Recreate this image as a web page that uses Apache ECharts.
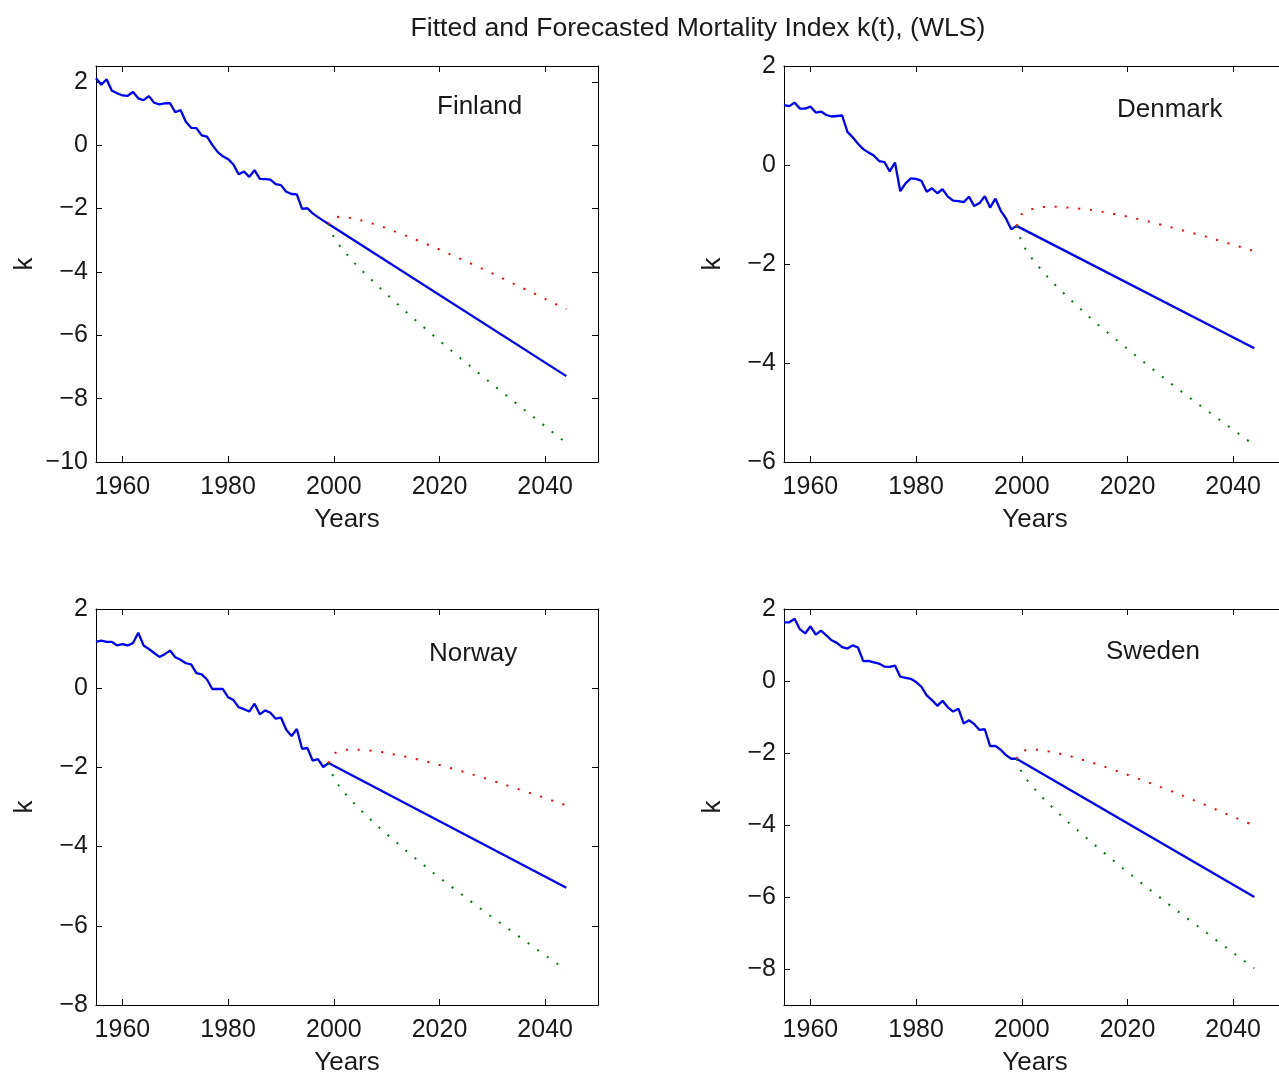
<!DOCTYPE html>
<html>
<head>
<meta charset="utf-8">
<script src="https://cdn.jsdelivr.net/npm/echarts@6/dist/echarts.min.js"></script>
<style>
  html, body { margin: 0; padding: 0; background: #ffffff; }
  #chart { width: 1279px; height: 1072px; }
</style>
</head>
<body>
<div id="chart"></div>
<script>
// Observed years of the fitted index
const histYears = [1955, 1956, 1957, 1958, 1959, 1960, 1961, 1962, 1963, 1964,
                   1965, 1966, 1967, 1968, 1969, 1970, 1971, 1972, 1973, 1974,
                   1975, 1976, 1977, 1978, 1979, 1980, 1981, 1982, 1983, 1984,
                   1985, 1986, 1987, 1988, 1989, 1990, 1991, 1992, 1993, 1994,
                   1995, 1996, 1997, 1998, 1999];

// Fitted k(t), 1955-1999
const finlandHist = [2.11, 1.91, 2.08, 1.72, 1.64, 1.57, 1.56, 1.68, 1.48, 1.42,
                     1.55, 1.34, 1.29, 1.32, 1.33, 1.04, 1.11, 0.74, 0.55, 0.54,
                     0.31, 0.27, 0.01, -0.21, -0.35, -0.44, -0.61, -0.92, -0.83, -1.00,
                     -0.79, -1.06, -1.07, -1.09, -1.23, -1.26, -1.47, -1.54, -1.55, -2.01,
                     -1.99, -2.15, -2.27, -2.38, -2.49];
const denmarkHist = [1.21, 1.19, 1.26, 1.14, 1.14, 1.18, 1.06, 1.08, 1.01, 0.98,
                     0.99, 1.00, 0.67, 0.56, 0.43, 0.32, 0.25, 0.19, 0.08, 0.06,
                     -0.13, 0.05, -0.53, -0.37, -0.27, -0.28, -0.32, -0.54, -0.47, -0.57,
                     -0.49, -0.64, -0.72, -0.73, -0.75, -0.64, -0.83, -0.77, -0.63, -0.86,
                     -0.68, -0.92, -1.08, -1.30, -1.23];
const norwayHist = [1.17, 1.20, 1.17, 1.17, 1.08, 1.11, 1.08, 1.14, 1.40, 1.08,
                    0.99, 0.89, 0.79, 0.86, 0.95, 0.78, 0.72, 0.63, 0.60, 0.38,
                    0.35, 0.22, -0.02, -0.02, -0.02, -0.23, -0.30, -0.48, -0.53, -0.59,
                    -0.39, -0.66, -0.56, -0.62, -0.77, -0.74, -1.05, -1.21, -1.03, -1.53,
                    -1.51, -1.83, -1.79, -1.99, -1.89];
const swedenHist = [1.63, 1.63, 1.73, 1.44, 1.32, 1.52, 1.29, 1.40, 1.27, 1.13,
                    1.06, 0.94, 0.90, 0.99, 0.93, 0.55, 0.56, 0.52, 0.48, 0.40,
                    0.39, 0.43, 0.12, 0.09, 0.06, -0.03, -0.16, -0.40, -0.53, -0.69,
                    -0.55, -0.73, -0.85, -0.77, -1.18, -1.09, -1.20, -1.36, -1.34, -1.81,
                    -1.80, -1.91, -2.06, -2.16, -2.16];

// Central forecast: straight line from the last fitted year to the horizon
const meanYears = [1999, 2044];
const finlandMean = [-2.49, -7.29];
const denmarkMean = [-1.23, -3.70];
const norwayMean = [-1.89, -5.04];
const swedenMean = [-2.16, -6.00];

// Upper and lower forecast bounds
const boundYears = [1999, 2000, 2001, 2002, 2003, 2004, 2006, 2009, 2014, 2019, 2024, 2029, 2034, 2039, 2044];
const finlandUpper = [-2.49, -2.28, -2.26, -2.27, -2.29, -2.32, -2.41, -2.56, -2.88, -3.22, -3.59, -3.97, -4.37, -4.77, -5.18];
const finlandLower = [-2.49, -2.91, -3.15, -3.35, -3.55, -3.73, -4.07, -4.55, -5.31, -6.03, -6.73, -7.41, -8.08, -8.74, -9.40];
const denmarkUpper = [-1.23, -0.99, -0.93, -0.89, -0.87, -0.85, -0.84, -0.86, -0.92, -1.02, -1.14, -1.28, -1.42, -1.58, -1.74];
const denmarkLower = [-1.23, -1.58, -1.75, -1.90, -2.03, -2.16, -2.39, -2.70, -3.19, -3.63, -4.06, -4.48, -4.88, -5.27, -5.66];
const norwayUpper = [-1.89, -1.65, -1.59, -1.56, -1.55, -1.55, -1.56, -1.61, -1.74, -1.90, -2.09, -2.29, -2.51, -2.73, -2.96];
const norwayLower = [-1.89, -2.27, -2.47, -2.64, -2.79, -2.93, -3.20, -3.57, -4.14, -4.68, -5.19, -5.69, -6.17, -6.65, -7.12];
const swedenUpper = [-2.16, -1.95, -1.91, -1.91, -1.91, -1.93, -1.98, -2.08, -2.30, -2.55, -2.82, -3.10, -3.40, -3.71, -4.02];
const swedenLower = [-2.16, -2.54, -2.75, -2.93, -3.09, -3.25, -3.54, -3.95, -4.58, -5.19, -5.77, -6.34, -6.89, -7.44, -7.98];

// Tick labels
const xTicks = [1960, 1980, 2000, 2020, 2040];
const finlandYTicks = [-10, -8, -6, -4, -2, 0, 2];
const denmarkYTicks = [-6, -4, -2, 0, 2];
const norwayYTicks = [-8, -6, -4, -2, 0, 2];
const swedenYTicks = [-8, -6, -4, -2, 0, 2];

const titleText = 'Fitted and Forecasted Mortality Index k(t), (WLS)';
const xName = 'Years';
const yName = 'k';

const FONT = "'Liberation Sans', Arial, Helvetica, sans-serif";
const TEXT = '#1a1a1a';

const panels = [
  { name: 'Finland', hist: finlandHist, mean: finlandMean, upper: finlandUpper, lower: finlandLower,
    yMin: -10, yMax: 2.5, yTicks: finlandYTicks,
    box: { left: 96, top: 66, width: 502, height: 396 }, label: [437, 107] },
  { name: 'Denmark', hist: denmarkHist, mean: denmarkMean, upper: denmarkUpper, lower: denmarkLower,
    yMin: -6, yMax: 2, yTicks: denmarkYTicks,
    box: { left: 784, top: 66, width: 502, height: 396 }, label: [1117, 110] },
  { name: 'Norway', hist: norwayHist, mean: norwayMean, upper: norwayUpper, lower: norwayLower,
    yMin: -8, yMax: 2, yTicks: norwayYTicks,
    box: { left: 96, top: 609, width: 502, height: 396 }, label: [429, 654] },
  { name: 'Sweden', hist: swedenHist, mean: swedenMean, upper: swedenUpper, lower: swedenLower,
    yMin: -9, yMax: 2, yTicks: swedenYTicks,
    box: { left: 784, top: 609, width: 502, height: 396 }, label: [1106, 652] }
];

const plain = v => String(v);
const minus = v => String(v).replace('-', '\u2212');
const pairs = (xs, ys) => xs.map((x, i) => [x, ys[i]]);

const grid = [], xAxis = [], yAxis = [], series = [], graphic = [];

panels.forEach((p, i) => {
  grid.push(Object.assign({ outerBoundsMode: 'none', containLabel: false }, p.box));

  const line = { show: true, onZero: false, lineStyle: { color: '#000', width: 1 } };
  const tickIn = (vals) => ({ show: true, inside: true, length: 6, customValues: vals,
                              lineStyle: { color: '#000', width: 1 } });

  // bottom + mirrored top x axis
  xAxis.push({
    type: 'value', gridIndex: i, position: 'bottom', min: 1955, max: 2050,
    axisLine: line, axisTick: tickIn(xTicks), splitLine: { show: false },
    axisLabel: { show: true, customValues: xTicks, margin: 13, color: TEXT,
                 fontFamily: FONT, fontSize: 25, formatter: plain },
    name: xName, nameLocation: 'middle', nameGap: 45, nameMoveOverlap: false,
    nameTextStyle: { color: TEXT, fontFamily: FONT, fontSize: 26 }
  });
  xAxis.push({
    type: 'value', gridIndex: i, position: 'top', min: 1955, max: 2050,
    axisLine: line, axisTick: tickIn(xTicks), splitLine: { show: false },
    axisLabel: { show: false }
  });

  // left + mirrored right y axis
  yAxis.push({
    type: 'value', gridIndex: i, position: 'left', min: p.yMin, max: p.yMax,
    axisLine: line, axisTick: tickIn(p.yTicks), splitLine: { show: false },
    axisLabel: { show: true, customValues: p.yTicks, margin: 8, color: TEXT,
                 fontFamily: FONT, fontSize: 25, formatter: minus },
    name: yName, nameLocation: 'middle', nameGap: 58, nameRotate: 90, nameMoveOverlap: false,
    nameTextStyle: { color: TEXT, fontFamily: FONT, fontSize: 26 }
  });
  yAxis.push({
    type: 'value', gridIndex: i, position: 'right', min: p.yMin, max: p.yMax,
    axisLine: line, axisTick: tickIn(p.yTicks), splitLine: { show: false },
    axisLabel: { show: false }
  });

  const ax = { xAxisIndex: 2 * i, yAxisIndex: 2 * i, symbol: 'none', silent: true, animation: false };
  series.push(Object.assign({ type: 'line', name: p.name + ' fitted',
    data: pairs(histYears, p.hist), lineStyle: { color: '#0000ff', width: 2.3 } }, ax));
  series.push(Object.assign({ type: 'line', name: p.name + ' forecast',
    data: pairs(meanYears, p.mean), lineStyle: { color: '#0000ff', width: 2.3 } }, ax));
  series.push(Object.assign({ type: 'line', name: p.name + ' upper',
    data: pairs(boundYears, p.upper),
    lineStyle: { color: '#ff0000', width: 2, type: [2, 9.8], cap: 'butt' } }, ax));
  series.push(Object.assign({ type: 'line', name: p.name + ' lower',
    data: pairs(boundYears, p.lower),
    lineStyle: { color: '#008000', width: 2, type: [2, 9.8], cap: 'butt' } }, ax));

  graphic.push({
    type: 'text', x: p.label[0], y: p.label[1], silent: true,
    style: { text: p.name, fill: TEXT, font: '26px ' + FONT, align: 'left', verticalAlign: 'middle' }
  });
});

graphic.push({
  type: 'text', x: 698, y: 29, silent: true,
  style: { text: titleText, fill: TEXT, font: '26.6px ' + FONT, align: 'center', verticalAlign: 'middle' }
});

const chart = echarts.init(document.getElementById('chart'), null, { renderer: 'canvas' });
chart.setOption({
  animation: false,
  backgroundColor: '#ffffff',
  grid, xAxis, yAxis, series, graphic
});
</script>
</body>
</html>
